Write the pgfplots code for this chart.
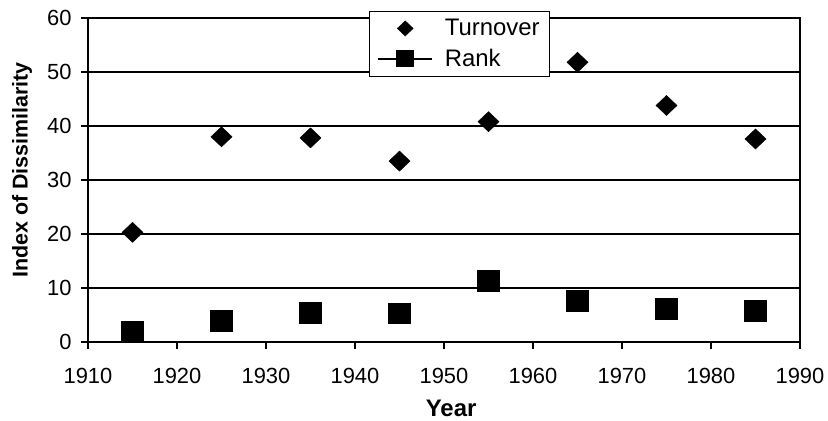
\documentclass[border=0pt]{standalone}
\usepackage{pgfplots}
\pgfplotsset{compat=1.18}
\usepackage{fontspec}
\setmainfont{Liberation Sans}
\pgfplotsset{
  turnleg/.style={legend image code/.code={\draw[##1, every mark/.append style={scale=0.75}] plot coordinates {(0.95cm,0cm)}; \path (1.9cm,0cm);}},
  rankleg/.style={legend image code/.code={\draw[black, line width=1.4bp] (0cm,0cm) -- (1.9cm,0cm); \draw[##1, every mark/.append style={scale=0.75}] plot coordinates {(0.95cm,0cm)};}},
}
\begin{document}
\begin{tikzpicture}
\path[use as bounding box] (0,0) rectangle (828bp,421bp);
\begin{axis}[
  at={(88bp,79bp)}, anchor=south west,
  width=712bp, height=324bp, scale only axis,
  xmin=1910, xmax=1990, ymin=0, ymax=60,
  xtick={1910,1920,...,1990}, ytick={0,10,...,60},
  tick pos=left,
  tick align=outside, major tick length=7bp,
  tick style={black, line width=1.3bp},
  ymajorgrids, grid style={black, line width=1.5bp},
  axis line style={black, line width=1.7bp},
  ticklabel style={font=\fontsize{22}{22}\selectfont},
  xticklabel={\rule{0pt}{31bp}\pgfmathprintnumber[assume math mode=true,1000 sep={}]{\tick}},
  yticklabel={\pgfmathprintnumber[assume math mode=true]{\tick}},
  yticklabel style={xshift=-6bp},
  xlabel={Year}, ylabel={Index of Dissimilarity},
  xlabel style={font=\fontsize{24}{24}\selectfont\bfseries, at={(axis description cs:0.51,-0.205)}, anchor=center},
  ylabel style={font=\fontsize{21.5}{21.5}\selectfont\bfseries, at={(axis description cs:-0.0927,0.531)}, anchor=center},
  legend cell align=left,
  legend style={at={(0.3947,1.022)}, anchor=north west, draw=black, line width=1.2bp,
    font=\fontsize{24}{24}\selectfont, fill=white,
    row sep=8bp, inner xsep=8bp, inner ysep=6bp},
  clip=false,
]
\addplot[only marks, mark=diamond*, mark size=10bp, mark options={fill=black, draw=black, xscale=1.4, line width=0.5bp}, turnleg]
  coordinates {(1915,20.3) (1925,38) (1935,37.8) (1945,33.5) (1955,40.8) (1965,51.8) (1975,43.8) (1985,37.6)};
\addlegendentry{\hspace*{10bp}Turnover}
\addplot[only marks, mark=square*, mark size=10.3bp, mark options={fill=black, draw=black, xscale=1.08}, rankleg]
  coordinates {(1915,2.0) (1925,3.9) (1935,5.4) (1945,5.3) (1955,11.3) (1965,7.6) (1975,6.2) (1985,5.8)};
\addlegendentry{\hspace*{10bp}Rank}
\end{axis}
\end{tikzpicture}
\end{document}
